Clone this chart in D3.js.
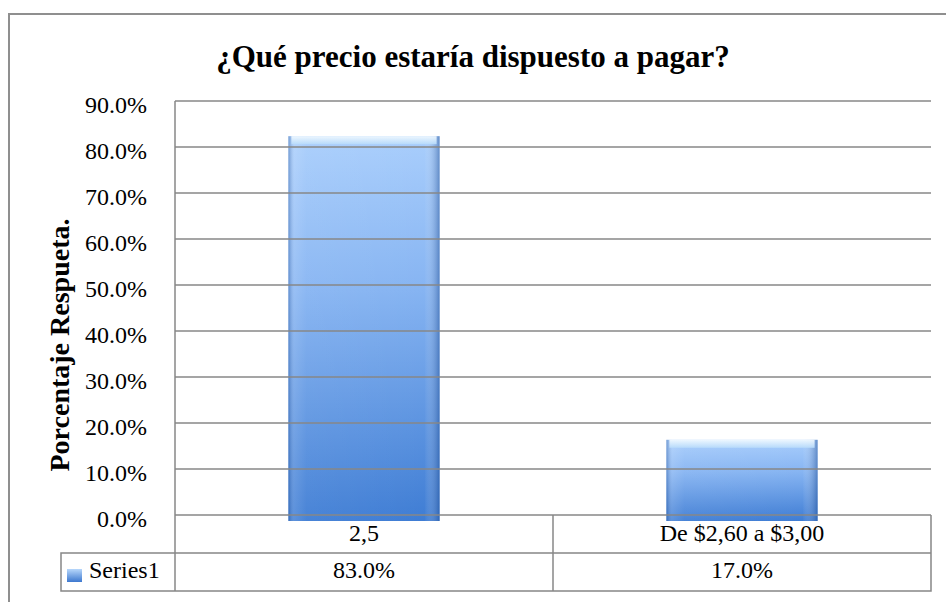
<!DOCTYPE html>
<html>
<head>
<meta charset="utf-8">
<script src="https://cdn.jsdelivr.net/npm/d3@7"></script>
<style>
  body { margin: 0; background: #fff; }
</style>
</head>
<body>
<svg id="chart" width="946" height="602"></svg>
<script>
// chart data
const categories = ['2,5', 'De $2,60 a $3,00'];
const values = [0.83, 0.17];
const seriesName = 'Series1';
const yTicks = [0, 0.1, 0.2, 0.3, 0.4, 0.5, 0.6, 0.7, 0.8, 0.9];

const font = "'Liberation Serif', 'Times New Roman', serif";
const svg = d3.select('#chart').attr('font-family', font);
const gridColor = '#878787';

const plot = { left: 175, right: 931, top: 101, bottom: 515 };
const rowH = 38;

// outer frame (right and bottom run off the picture)
svg.append('path')
    .attr('d', 'M9,602 L9,14 L946,14')
    .attr('fill', 'none')
    .attr('stroke', '#8f8f8f')
    .attr('stroke-width', 2);

const defs = svg.append('defs');
const vGrad = defs.append('linearGradient')
    .attr('id', 'barV').attr('x1', 0).attr('y1', 0).attr('x2', 0).attr('y2', 1);
vGrad.append('stop').attr('offset', '0%').attr('stop-color', '#a9cefc');
vGrad.append('stop').attr('offset', '40%').attr('stop-color', '#86b4f2');
vGrad.append('stop').attr('offset', '100%').attr('stop-color', '#3f7dd4');

const hGrad = defs.append('linearGradient')
    .attr('id', 'barH').attr('x1', 0).attr('y1', 0).attr('x2', 1).attr('y2', 0);
hGrad.append('stop').attr('offset', '0%').attr('stop-color', '#1d4c94').attr('stop-opacity', 0.4);
hGrad.append('stop').attr('offset', '4%').attr('stop-color', '#ffffff').attr('stop-opacity', 0.15);
hGrad.append('stop').attr('offset', '12%').attr('stop-color', '#ffffff').attr('stop-opacity', 0.05);
hGrad.append('stop').attr('offset', '90%').attr('stop-color', '#ffffff').attr('stop-opacity', 0);
hGrad.append('stop').attr('offset', '100%').attr('stop-color', '#1d4c94').attr('stop-opacity', 0.5);

const topGrad = defs.append('linearGradient')
    .attr('id', 'barTop').attr('x1', 0).attr('y1', 0).attr('x2', 0).attr('y2', 1);
topGrad.append('stop').attr('offset', '0%').attr('stop-color', '#f4fbff');
topGrad.append('stop').attr('offset', '100%').attr('stop-color', '#b9dcfb');

// scales
const x = d3.scaleBand()
    .domain(categories)
    .range([plot.left, plot.right])
    .paddingInner(0.6)
    .paddingOuter(0.3);
const xCat = d3.scaleBand().domain(categories).range([plot.left, plot.right]);

const y = d3.scaleLinear()
    .domain([0, 0.9])
    .range([plot.bottom, plot.top]);

// bars
const bars = svg.append('g').selectAll('g')
    .data(categories)
    .join('g');

bars.append('rect')
    .attr('x', d => x(d))
    .attr('y', (d, i) => y(values[i]) + 3)
    .attr('width', x.bandwidth())
    .attr('height', (d, i) => y(0) - y(values[i]) + 3)
    .attr('fill', 'url(#barV)');
bars.append('rect')
    .attr('x', d => x(d))
    .attr('y', (d, i) => y(values[i]) + 3)
    .attr('width', x.bandwidth())
    .attr('height', (d, i) => y(0) - y(values[i]) + 3)
    .attr('fill', 'url(#barH)');
bars.append('rect')
    .attr('x', d => x(d) + 3)
    .attr('y', (d, i) => y(values[i]) + 3)
    .attr('width', x.bandwidth() - 6)
    .attr('height', 8)
    .attr('fill', 'url(#barTop)')
    .attr('opacity', 0.9);

// gridlines drawn over bars
svg.append('g')
    .selectAll('line')
    .data(yTicks)
    .join('line')
    .attr('x1', plot.left)
    .attr('x2', plot.right)
    .attr('y1', d => y(d))
    .attr('y2', d => y(d))
    .attr('stroke', gridColor)
    .attr('stroke-width', 1.5);

// y axis line
svg.append('line')
    .attr('x1', plot.left).attr('x2', plot.left)
    .attr('y1', plot.top).attr('y2', plot.bottom + rowH * 2)
    .attr('stroke', gridColor).attr('stroke-width', 1.5);

// y tick labels
svg.append('g')
    .selectAll('text')
    .data(yTicks)
    .join('text')
    .attr('x', 147)
    .attr('y', d => y(d) + 12)
    .attr('text-anchor', 'end')
    .attr('font-size', 24)
    .attr('fill', '#000')
    .text(d => d3.format('.1%')(d));

// y axis title
svg.append('text')
    .attr('transform', 'translate(69,345) rotate(-90)')
    .attr('text-anchor', 'middle')
    .attr('font-size', 28)
    .attr('font-weight', 'bold')
    .text('Porcentaje Respueta.');

// title
svg.append('text')
    .attr('x', 473)
    .attr('y', 67)
    .attr('text-anchor', 'middle')
    .attr('font-size', 31)
    .attr('font-weight', 'bold')
    .text('¿Qué precio estaría dispuesto a pagar?');

// data table
const table = svg.append('g')
    .attr('fill', 'none')
    .attr('stroke', gridColor)
    .attr('stroke-width', 1.5);
table.append('path')
    .attr('d', `M${plot.right},${plot.bottom} V${plot.bottom + rowH * 2} H61 V${plot.bottom + rowH} H${plot.right}`);
table.selectAll('line.sep')
    .data(categories.slice(1))
    .join('line')
    .attr('x1', d => xCat(d)).attr('x2', d => xCat(d))
    .attr('y1', plot.bottom).attr('y2', plot.bottom + rowH * 2);

svg.append('g')
    .selectAll('text')
    .data(categories)
    .join('text')
    .attr('x', d => xCat(d) + xCat.bandwidth() / 2)
    .attr('y', plot.bottom + 26)
    .attr('text-anchor', 'middle')
    .attr('font-size', 24)
    .text(d => d);

svg.append('g')
    .selectAll('text')
    .data(values)
    .join('text')
    .attr('x', (d, i) => xCat(categories[i]) + xCat.bandwidth() / 2)
    .attr('y', plot.bottom + rowH + 25)
    .attr('text-anchor', 'middle')
    .attr('font-size', 24)
    .text(d => d3.format('.1%')(d));

// legend key
const keyGrad = defs.append('linearGradient')
    .attr('id', 'keyG').attr('x1', 0).attr('y1', 0).attr('x2', 0).attr('y2', 1);
keyGrad.append('stop').attr('offset', '0%').attr('stop-color', '#b7d7fb');
keyGrad.append('stop').attr('offset', '100%').attr('stop-color', '#3d78cf');
svg.append('rect')
    .attr('x', 67).attr('y', 569).attr('width', 15).attr('height', 13)
    .attr('fill', 'url(#keyG)');
svg.append('text')
    .attr('x', 89)
    .attr('y', plot.bottom + rowH + 25)
    .attr('font-size', 24)
    .text(seriesName);
</script>
</body>
</html>
